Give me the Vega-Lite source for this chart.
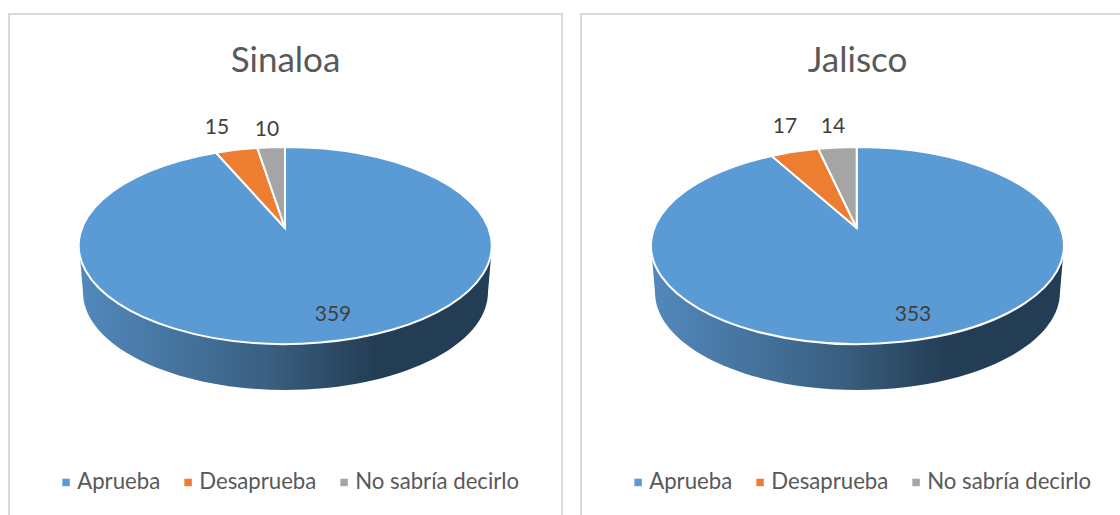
{
"$schema":"https://vega.github.io/schema/vega-lite/v6.json",
"padding":{"left":8,"top":13,"right":0,"bottom":0},
"background":"white",
"spacing":17,
"config":{"view":{"stroke":"#D9D9D9","strokeWidth":2},"font":"Lato"},
"datasets":{"votos":[
{"estado":"Sinaloa","categoria":"Aprueba","valor":359},
{"estado":"Sinaloa","categoria":"Desaprueba","valor":15},
{"estado":"Sinaloa","categoria":"No sabría decirlo","valor":10},
{"estado":"Jalisco","categoria":"Aprueba","valor":353},
{"estado":"Jalisco","categoria":"Desaprueba","valor":17},
{"estado":"Jalisco","categoria":"No sabría decirlo","valor":14}
]},
"resolve":{"scale":{"color":"independent"}},
"hconcat":[
{"width":553,"height":503,
"view":{"stroke":"#D9D9D9","strokeWidth":2},
"title":{"text":"Sinaloa","fontSize":35,"fontWeight":"normal","color":"#595959","anchor":"middle","offset":-65,"font":"Lato"},
"data":{"name":"votos"},
"transform":[{"filter":"datum.estado === 'Sinaloa'"}],
"encoding":{"color":{"field":"categoria","type":"nominal","scale":{"domain":["Aprueba","Desaprueba","No sabría decirlo"],"range":["#5B9BD5","#ED7D31","#A5A5A5"]},
"legend":{"title":null,"orient":"none","legendX":46,"legendY":457,"direction":"horizontal","columns":3,"symbolType":"square","symbolSize":56,"symbolStrokeWidth":0,"labelFont":"Lato","labelFontSize":22.2,"labelColor":"#595959","labelOffset":0,"labelLimit":300,"columnPadding":16}}},
"layer":[
{"transform":[{"filter":"datum.categoria === 'Aprueba'"}],
"mark":{"type":"point","filled":true,"opacity":1,"size":4,"strokeWidth":0,"shape":"M-206.5,-20 L-202.5,26.5 A202.5,98 0 0 0 202.5,26.5 L206.5,-20 Z","fill":{"gradient":"linear","x1":0,"y1":0,"x2":1,"y2":0,"stops":[{"offset":0,"color":"#5289BD"},{"offset":0.45,"color":"#3A6082"},{"offset":0.72,"color":"#233D54"},{"offset":1,"color":"#233D54"}]}},
"encoding":{"color":{"value":null}}},
{"transform":[{"filter":"datum.categoria === 'Aprueba'"}],"mark":{"type":"point","filled":true,"opacity":1,"size":4,"stroke":"white","strokeWidth":2,"shape":"M-0.5,-37.5 L-69.5,-112.8 A206.5,98.5 0 1 0 -0.5,-118.5 Z"}},
{"transform":[{"filter":"datum.categoria === 'Desaprueba'"}],"mark":{"type":"point","filled":true,"opacity":1,"size":4,"stroke":"white","strokeWidth":2,"shape":"M-0.5,-37.5 L-28.2,-117.6 A206.5,98.5 0 0 0 -69.5,-112.8 Z"}},
{"transform":[{"filter":"datum.categoria === 'No sabría decirlo'"}],"mark":{"type":"point","filled":true,"opacity":1,"size":4,"stroke":"white","strokeWidth":2,"shape":"M-0.5,-37.5 L-0.5,-118.5 A206.5,98.5 0 0 0 -28.2,-117.6 Z"}},
{"transform":[{"filter":"datum.categoria === 'Aprueba'"}],"mark":{"type":"text","fontSize":21,"dx":47.5,"dy":49.5,"font":"Lato"},"encoding":{"color":{"value":"#404040"},"text":{"field":"valor","type":"quantitative"}}},
{"transform":[{"filter":"datum.categoria === 'Desaprueba'"}],"mark":{"type":"text","fontSize":21,"dx":-68.5,"dy":-137.5,"font":"Lato"},"encoding":{"color":{"value":"#404040"},"text":{"field":"valor","type":"quantitative"}}},
{"transform":[{"filter":"datum.categoria === 'No sabría decirlo'"}],"mark":{"type":"text","fontSize":21,"dx":-18.5,"dy":-135.5,"font":"Lato"},"encoding":{"color":{"value":"#404040"},"text":{"field":"valor","type":"quantitative"}}}
]},
{"width":553,"height":503,
"view":{"stroke":"#D9D9D9","strokeWidth":2},
"title":{"text":"Jalisco","fontSize":35,"fontWeight":"normal","color":"#595959","anchor":"middle","offset":-65,"font":"Lato"},
"data":{"name":"votos"},
"transform":[{"filter":"datum.estado === 'Jalisco'"}],
"encoding":{"color":{"field":"categoria","type":"nominal","scale":{"domain":["Aprueba","Desaprueba","No sabría decirlo"],"range":["#5B9BD5","#ED7D31","#A5A5A5"]},
"legend":{"title":null,"orient":"none","legendX":46,"legendY":457,"direction":"horizontal","columns":3,"symbolType":"square","symbolSize":56,"symbolStrokeWidth":0,"labelFont":"Lato","labelFontSize":22.2,"labelColor":"#595959","labelOffset":0,"labelLimit":300,"columnPadding":16}}},
"layer":[
{"transform":[{"filter":"datum.categoria === 'Aprueba'"}],
"mark":{"type":"point","filled":true,"opacity":1,"size":4,"strokeWidth":0,"shape":"M-206.5,-20 L-202.5,26.5 A202.5,98 0 0 0 202.5,26.5 L206.5,-20 Z","fill":{"gradient":"linear","x1":0,"y1":0,"x2":1,"y2":0,"stops":[{"offset":0,"color":"#5289BD"},{"offset":0.45,"color":"#3A6082"},{"offset":0.72,"color":"#233D54"},{"offset":1,"color":"#233D54"}]}},
"encoding":{"color":{"value":null}}},
{"transform":[{"filter":"datum.categoria === 'Aprueba'"}],"mark":{"type":"point","filled":true,"opacity":1,"size":4,"stroke":"white","strokeWidth":2,"shape":"M-0.8,-37.5 L-85.8,-109.6 A206.5,98.5 0 1 0 -0.8,-118.5 Z"}},
{"transform":[{"filter":"datum.categoria === 'Desaprueba'"}],"mark":{"type":"point","filled":true,"opacity":1,"size":4,"stroke":"white","strokeWidth":2,"shape":"M-0.8,-37.5 L-39.2,-116.7 A206.5,98.5 0 0 0 -85.8,-109.6 Z"}},
{"transform":[{"filter":"datum.categoria === 'No sabría decirlo'"}],"mark":{"type":"point","filled":true,"opacity":1,"size":4,"stroke":"white","strokeWidth":2,"shape":"M-0.8,-37.5 L-0.8,-118.5 A206.5,98.5 0 0 0 -39.2,-116.7 Z"}},
{"transform":[{"filter":"datum.categoria === 'Aprueba'"}],"mark":{"type":"text","fontSize":21,"dx":55.5,"dy":49.5,"font":"Lato"},"encoding":{"color":{"value":"#404040"},"text":{"field":"valor","type":"quantitative"}}},
{"transform":[{"filter":"datum.categoria === 'Desaprueba'"}],"mark":{"type":"text","fontSize":21,"dx":-72.5,"dy":-138.5,"font":"Lato"},"encoding":{"color":{"value":"#404040"},"text":{"field":"valor","type":"quantitative"}}},
{"transform":[{"filter":"datum.categoria === 'No sabría decirlo'"}],"mark":{"type":"text","fontSize":21,"dx":-24.5,"dy":-138.5,"font":"Lato"},"encoding":{"color":{"value":"#404040"},"text":{"field":"valor","type":"quantitative"}}}
]}
]
}
